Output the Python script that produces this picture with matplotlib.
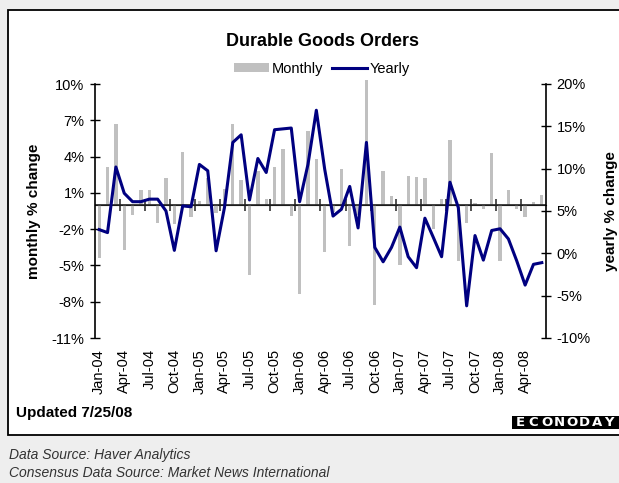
import matplotlib
matplotlib.use('Agg')
import matplotlib.pyplot as plt
from matplotlib.patches import Rectangle

plt.rcParams['font.family'] = ['Liberation Sans', 'DejaVu Sans']

# months Jan-04 .. Jun-08
months = ['Jan-04', 'Feb-04', 'Mar-04', 'Apr-04', 'May-04', 'Jun-04', 'Jul-04', 'Aug-04', 'Sep-04',
          'Oct-04', 'Nov-04', 'Dec-04', 'Jan-05', 'Feb-05', 'Mar-05', 'Apr-05', 'May-05', 'Jun-05',
          'Jul-05', 'Aug-05', 'Sep-05', 'Oct-05', 'Nov-05', 'Dec-05', 'Jan-06', 'Feb-06', 'Mar-06',
          'Apr-06', 'May-06', 'Jun-06', 'Jul-06', 'Aug-06', 'Sep-06', 'Oct-06', 'Nov-06', 'Dec-06',
          'Jan-07', 'Feb-07', 'Mar-07', 'Apr-07', 'May-07', 'Jun-07', 'Jul-07', 'Aug-07', 'Sep-07',
          'Oct-07', 'Nov-07', 'Dec-07', 'Jan-08', 'Feb-08', 'Mar-08', 'Apr-08', 'May-08', 'Jun-08']

# monthly % change (bars, left axis)
monthly = [-4.4, 3.1, 6.7, -3.7, -0.8, 1.2, 1.2, -1.5, 2.2, -1.6, 4.4, -1.0,
           0.3, 2.2, -0.7, 1.3, 6.7, 2.1, -5.8, 2.8, 0.5, 3.1, 4.6, -0.9,
           -7.4, 6.1, 3.8, -3.9, -0.6, 3.0, -3.4, -0.8, 10.3, -8.3, 2.8, 0.7,
           -5.0, 2.4, 2.3, 2.2, -2.0, 0.5, 5.4, -4.6, -1.5, 0.15, -0.3, 4.3,
           -4.6, 1.2, -0.35, -1.0, 0.25, 0.8]

# yearly % change (line, right axis)
yearly = [2.8, 2.45, 10.2, 7.1, 6.1, 6.1, 6.4, 6.4, 5.0, 0.35, 5.6, 5.5,
          10.5, 9.75, 0.3, 5.4, 13.1, 14.0, 6.3, 11.2, 9.55, 14.6, 14.7, 14.8,
          6.1, 10.5, 16.9, 9.95, 4.4, 5.2, 7.9, 3.0, 13.1, 0.7, -1.0, 0.7,
          3.1, -0.4, -1.7, 4.15, 1.9, -0.4, 8.4, 5.4, -6.2, 2.1, -0.8, 2.7,
          2.9, 1.7, -0.9, -3.75, -1.3, -1.1]

left_ticks = [-11, -8, -5, -2, 1, 4, 7, 10]
right_ticks = [-10, -5, 0, 5, 10, 15, 20]

W, H = 619, 483
fig = plt.figure(figsize=(W / 100, H / 100), dpi=100)
fig.patch.set_facecolor('#eeeeee')

# white chart box with black frame (behind everything)
fig.patches.append(Rectangle((8 / W, 1 - 435 / H), 1.0, (435 - 10) / H, transform=fig.transFigure,
                             facecolor='white', edgecolor='black', linewidth=1.3, zorder=-10))

ax = fig.add_axes([95 / W, 1 - 338 / H, (546 - 95) / W, (338 - 84) / H])
ax.set_facecolor('none')
x = list(range(len(months)))

ax.bar(x, monthly, width=0.4, color='#c0c0c0', zorder=1, clip_on=False, label='Monthly')
ax.set_xlim(-0.5, len(months) - 0.5)
ax.set_ylim(-11, 10)
ax.set_yticks(left_ticks)
ax.set_yticklabels(['%d%%' % t for t in left_ticks])
ax.tick_params(axis='y', direction='inout', length=7, width=1, labelsize=10.5, pad=4)
ax.set_ylabel('monthly % change', fontsize=11, fontweight='bold', labelpad=8)
for s in ['top', 'bottom', 'right']:
    ax.spines[s].set_visible(False)
ax.spines['left'].set_linewidth(1.2)

# category labels at the bottom, every 3 months
ax.set_xticks(x[::3])
ax.set_xticklabels(months[::3], rotation=90, fontsize=10.5)
ax.tick_params(axis='x', length=0, pad=8)

# zero line with crossing tick marks at every 3rd category boundary
ax.axhline(0, color='#222222', linewidth=1.2, zorder=2)
zx = ax.secondary_xaxis(11 / 21)
zx.spines['bottom'].set_visible(False)
zx.set_xticks([i - 0.5 for i in range(3, len(months), 3)])
zx.set_xticklabels([])
zx.tick_params(direction='inout', length=8, width=1.1, color='#222222')

ax2 = ax.twinx()
ax2.plot(x, yearly, color='#000080', linewidth=2.2, zorder=3, label='Yearly')
ax2.set_ylim(-10, 20)
ax2.set_yticks(right_ticks)
ax2.set_yticklabels(['%d%%' % t for t in right_ticks])
ax2.tick_params(axis='y', direction='inout', length=7, width=1, labelsize=10.5, pad=4)
ax2.set_ylabel('yearly % change', fontsize=11, fontweight='bold', rotation=90, labelpad=10)
for s in ['top', 'bottom', 'left']:
    ax2.spines[s].set_visible(False)
ax2.spines['right'].set_linewidth(1.2)

fig.text(322 / W, 1 - 42 / H, 'Durable Goods Orders', ha='center', va='center',
         fontsize=13, fontweight='bold')

h1, l1 = ax.get_legend_handles_labels()
h2, l2 = ax2.get_legend_handles_labels()
fig.legend(h1 + h2, l1 + l2, loc='center', bbox_to_anchor=(322 / W, 1 - 69 / H), ncol=2,
           frameon=False, fontsize=10.5, handlelength=2.4, handletextpad=0.2,
           columnspacing=0.6, handleheight=0.6)

fig.text(16 / W, 1 - 413 / H, 'Updated 7/25/08', ha='left', va='center',
         fontsize=11, fontweight='bold')

# econoday logo
fig.patches.append(Rectangle((512 / W, 1 - 429 / H), 0.2, 13 / H, transform=fig.transFigure,
                             facecolor='black', edgecolor='none', zorder=1))
for k, ch in enumerate('ECONODAY'):
    fig.text((516 + k * 12.6) / W, 1 - 422.5 / H, ch, ha='left', va='center', color='white',
             fontsize=9.5, fontweight='bold', family='DejaVu Sans', zorder=2)

fig.text(9 / W, 1 - 455 / H, 'Data Source: Haver Analytics', ha='left', va='center',
         fontsize=10, style='italic', color='#333333')
fig.text(9 / W, 1 - 473 / H, 'Consensus Data Source: Market News International', ha='left',
         va='center', fontsize=10, style='italic', color='#333333')

fig.savefig('out.png', dpi=100, facecolor=fig.get_facecolor())
